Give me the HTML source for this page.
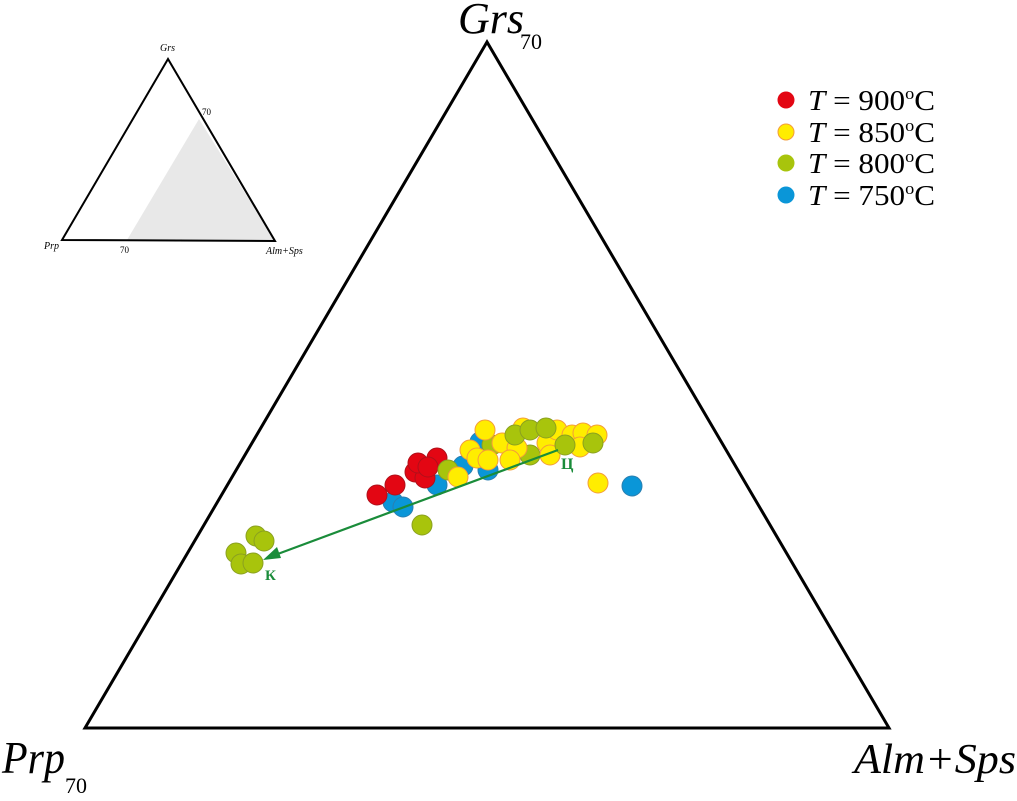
<!DOCTYPE html>
<html><head><meta charset="utf-8"><style>
html,body{margin:0;padding:0;background:#fff;}
svg{display:block;}
text{font-family:"Liberation Serif",serif;}
</style></head><body>
<svg width="1017" height="801" viewBox="0 0 1017 801" xmlns="http://www.w3.org/2000/svg" font-family="Liberation Serif, serif">
<!-- inset -->
<polygon points="199,119 127,240 275,241" fill="#e8e8e8"/>
<polygon points="168,59 62,240 275,241" fill="none" stroke="#000" stroke-width="2"/>
<text x="160" y="51" font-size="10" font-style="italic">Grs</text>
<text x="202" y="115" font-size="9">70</text>
<text x="44" y="249" font-size="10" font-style="italic">Prp</text>
<text x="120" y="253" font-size="9">70</text>
<text x="266" y="254" font-size="10" font-style="italic">Alm+Sps</text>
<!-- main -->
<polygon points="487,42 85,728 889,728" fill="none" stroke="#000" stroke-width="3"/>
<text x="458" y="33" font-size="44" font-style="italic">Grs</text>
<text x="520" y="49" font-size="22">70</text>
<text x="2" y="773" font-size="46" font-style="italic" textLength="63" lengthAdjust="spacingAndGlyphs">Prp</text>
<text x="65" y="793" font-size="22" textLength="22" lengthAdjust="spacingAndGlyphs">70</text>
<text x="854" y="773" font-size="42" font-style="italic" textLength="162" lengthAdjust="spacingAndGlyphs">Alm+Sps</text>
<!-- legend -->
<g font-size="29">
<circle cx="786" cy="100" r="8.5" fill="#e30613"/>
<text x="808" y="110" textLength="127" lengthAdjust="spacingAndGlyphs"><tspan font-style="italic">T</tspan> = 900<tspan font-size="17" dy="-11">o</tspan><tspan dy="11">C</tspan></text>
<circle cx="786" cy="132" r="8" fill="#ffed00" stroke="#f39c3a" stroke-width="1"/>
<text x="808" y="142" textLength="127" lengthAdjust="spacingAndGlyphs"><tspan font-style="italic">T</tspan> = 850<tspan font-size="17" dy="-11">o</tspan><tspan dy="11">C</tspan></text>
<circle cx="786" cy="163" r="8.5" fill="#a8c40c"/>
<text x="808" y="173" textLength="127" lengthAdjust="spacingAndGlyphs"><tspan font-style="italic">T</tspan> = 800<tspan font-size="17" dy="-11">o</tspan><tspan dy="11">C</tspan></text>
<circle cx="786" cy="195" r="8.5" fill="#0a96d8"/>
<text x="808" y="205" textLength="127" lengthAdjust="spacingAndGlyphs"><tspan font-style="italic">T</tspan> = 750<tspan font-size="17" dy="-11">o</tspan><tspan dy="11">C</tspan></text>
</g>
<!-- points -->
<g stroke-width="1">
<g fill="#0a96d8" stroke="#2a7fb0">
<circle cx="393" cy="502" r="10"/><circle cx="403" cy="507" r="10"/><circle cx="437" cy="485" r="10"/>
<circle cx="463" cy="466" r="10"/><circle cx="488" cy="470" r="10"/><circle cx="480" cy="442" r="10"/>
<circle cx="632" cy="486" r="10"/>
</g>
<g fill="#e30613" stroke="#b0101a">
<circle cx="377" cy="495" r="10"/><circle cx="395" cy="485" r="10"/><circle cx="415" cy="472" r="10"/>
<circle cx="425" cy="478" r="10"/><circle cx="418" cy="463" r="10"/><circle cx="437" cy="458" r="10"/>
<circle cx="428" cy="467" r="10"/>
</g>
<g fill="#a8c40c" stroke="#8aa020">
<circle cx="422" cy="525" r="10"/><circle cx="448" cy="470" r="10"/><circle cx="492" cy="445" r="10"/>
<circle cx="530" cy="455" r="10"/>
</g>
<g fill="#ffed00" stroke="#f39c3a">
<circle cx="458" cy="477" r="10"/><circle cx="470" cy="450" r="10"/><circle cx="477" cy="458" r="10"/>
<circle cx="488" cy="460" r="10"/><circle cx="485" cy="430" r="10"/><circle cx="502" cy="443" r="10"/>
<circle cx="517" cy="448" r="10"/><circle cx="510" cy="460" r="10"/><circle cx="523" cy="428" r="10"/>
<circle cx="547" cy="443" r="10"/><circle cx="550" cy="455" r="10"/><circle cx="557" cy="430" r="10"/>
<circle cx="572" cy="435" r="10"/><circle cx="583" cy="433" r="10"/><circle cx="597" cy="435" r="10"/>
<circle cx="580" cy="447" r="10"/><circle cx="598" cy="483" r="10"/>
</g>
<g fill="#a8c40c" stroke="#8aa020">
<circle cx="515" cy="435" r="10"/><circle cx="530" cy="430" r="10"/><circle cx="546" cy="428" r="10"/>
<circle cx="565" cy="445" r="10"/><circle cx="593" cy="443" r="10"/>
<circle cx="256" cy="536" r="10"/><circle cx="264" cy="541" r="10"/><circle cx="236" cy="553" r="10"/>
<circle cx="241" cy="564" r="10"/><circle cx="253" cy="563" r="10"/>
</g>
</g>
<!-- arrow -->
<line x1="558" y1="450" x2="275" y2="555" stroke="#1a8c3a" stroke-width="2.2"/>
<polygon points="263,560 277,547 281,558" fill="#1a8c3a"/>
<text x="561" y="469" font-size="16" font-weight="bold" fill="#1a8c3a">Ц</text>
<text x="265" y="580" font-size="15" font-weight="bold" fill="#1a8c3a">К</text>
</svg>
</body></html>
